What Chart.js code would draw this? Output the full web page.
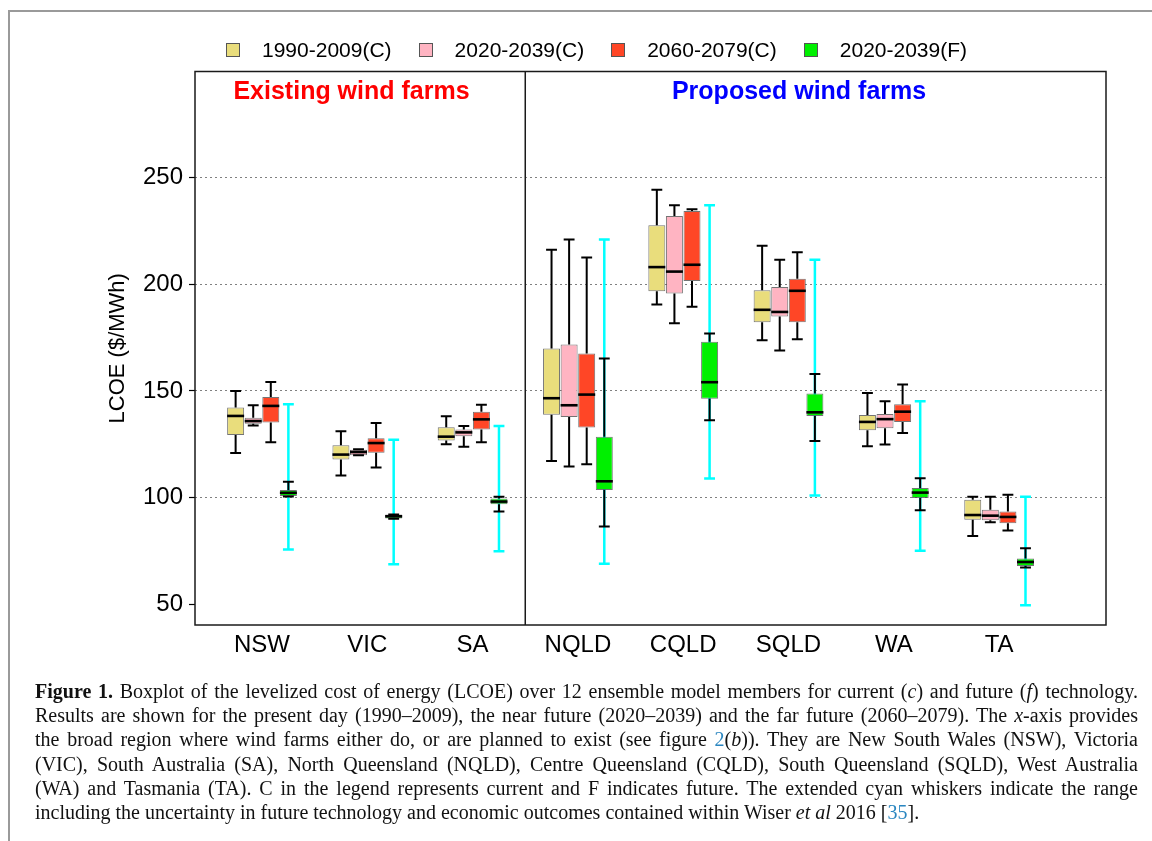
<!DOCTYPE html>
<html>
<head>
<meta charset="utf-8">
<script src="https://cdn.jsdelivr.net/npm/chart.js@4.4.1/dist/chart.umd.min.js"></script>
<style>
  html, body { margin: 0; padding: 0; background: #fff; }
  body { width: 1152px; height: 841px; position: relative; overflow: hidden; }
  #frame { position: absolute; left: 8px; top: 10px; width: 1300px; height: 1000px; border: 2px solid #9a9a9a; }
  #chart { position: absolute; left: 0; top: 0; }
  #legend { position: absolute; left: 0; top: 0; font-family: 'Liberation Sans', Arial, sans-serif; font-size: 21px; color: #000; }
  .lg-box { position: absolute; width: 14px; height: 14px; border: 1px solid #555; box-sizing: border-box; }
  .lg-text { position: absolute; white-space: nowrap; line-height: 24px; }
  #caption { position: absolute; left: 35px; top: 679px; width: 1103px; font-family: 'Liberation Serif', 'Times New Roman', serif; font-size: 20px; line-height: 24.2px; color: #111; }
  #caption div { white-space: nowrap; text-align: justify; text-align-last: justify; }
  #caption div.last { text-align-last: left; }
  .lnk { color: #2a86c0; }
</style>
</head>
<body>
<div id="frame"></div>
<canvas id="chart" width="1152" height="680"></canvas>
<div id="legend"></div>
<div id="caption">
  <div><b>Figure 1.</b> Boxplot of the levelized cost of energy (LCOE) over 12 ensemble model members for current (<i>c</i>) and future (<i>f</i>) technology.</div>
  <div>Results are shown for the present day (1990–2009), the near future (2020–2039) and the far future (2060–2079). The <i>x</i>-axis provides</div>
  <div>the broad region where wind farms either do, or are planned to exist (see figure <span class="lnk">2</span>(<i>b</i>)). They are New South Wales (NSW), Victoria</div>
  <div>(VIC), South Australia (SA), North Queensland (NQLD), Centre Queensland (CQLD), South Queensland (SQLD), West Australia</div>
  <div>(WA) and Tasmania (TA). C in the legend represents current and F indicates future. The extended cyan whiskers indicate the range</div>
  <div class="last">including the uncertainty in future technology and economic outcomes contained within Wiser <i>et al</i> 2016 [<span class="lnk">35</span>].</div>
</div>
<script>
// ===== LCOE boxplot: existing vs proposed wind farm regions =====

const regions = ['NSW', 'VIC', 'SA', 'NQLD', 'CQLD', 'SQLD', 'WA', 'TA'];
const seriesNames = ['1990-2009(C)', '2020-2039(C)', '2060-2079(C)', '2020-2039(F)'];
const yTicks = [50, 100, 150, 200, 250];

// 1990-2009 current technology
const c1990Min = [120.9, 110.4, 125.0, 117.2, 190.5, 173.8, 124.1, 82.1];
const c1990Q1  = [129.4, 117.9, 126.8, 138.9, 196.7, 182.2, 131.6, 89.7];
const c1990Med = [138.3, 120.2, 128.6, 146.6, 208.0, 188.0, 135.5, 91.9];
const c1990Q3  = [142.2, 124.6, 133.0, 169.9, 227.6, 197.2, 138.8, 99.1];
const c1990Max = [150.0, 131.1, 138.1, 216.1, 244.2, 218.0, 149.1, 100.5];

// 2020-2039 current technology
const c2020Min = [133.8, 119.9, 123.9, 114.6, 181.7, 168.9, 124.9, 88.5];
const c2020Q1  = [134.7, 119.9, 128.8, 137.8, 195.6, 184.9, 132.5, 89.5];
const c2020Med = [135.9, 121.4, 130.6, 143.3, 205.9, 187.0, 136.8, 91.6];
const c2020Q3  = [137.5, 122.5, 131.9, 171.7, 231.9, 198.7, 139.2, 94.4];
const c2020Max = [143.3, 122.7, 133.6, 220.9, 237.0, 211.4, 145.2, 100.5];

// 2060-2079 current technology
const c2060Min = [126.0, 114.1, 126.0, 115.7, 189.4, 174.2, 130.3, 84.6];
const c2060Q1  = [135.2, 121.1, 131.9, 132.9, 201.5, 182.2, 135.5, 88.1];
const c2060Med = [143.0, 125.6, 136.7, 148.3, 209.1, 196.9, 140.3, 91.0];
const c2060Q3  = [147.2, 127.8, 140.3, 167.5, 234.3, 202.5, 143.8, 93.6];
const c2060Max = [154.2, 135.0, 143.6, 212.5, 235.1, 215.0, 153.0, 101.4];

// 2020-2039 future technology
const f2020Min = [100.6, 90.2, 93.5, 86.5, 136.3, 126.6, 94.1, 67.3];
const f2020Q1  = [100.8, 90.3, 96.9, 103.6, 146.4, 138.3, 99.9, 68.0];
const f2020Med = [102.3, 91.3, 98.2, 107.7, 154.1, 140.0, 102.4, 69.9];
const f2020Q3  = [103.6, 92.1, 99.6, 128.6, 173.1, 148.8, 104.6, 71.5];
const f2020Max = [107.5, 92.2, 100.5, 165.2, 176.9, 158.0, 109.1, 76.3];

// extended (cyan) whiskers: uncertainty range for future technology
const cyanLow  = [75.8, 68.9, 74.9, 69.1, 109.0, 101.1, 75.2, 49.7];
const cyanHigh = [143.8, 127.2, 133.6, 220.9, 237.0, 211.4, 145.2, 100.5];

// Colour scheme
const boxColors = ['#E9DD7C', '#FFB4C2', '#FF4626', '#00F000'];
const cyanColor = '#00FFFF';
const FONT = "'Liberation Sans', Arial, Helvetica, sans-serif";

const stats = [
  { min: c1990Min, q1: c1990Q1, med: c1990Med, q3: c1990Q3, max: c1990Max },
  { min: c2020Min, q1: c2020Q1, med: c2020Med, q3: c2020Q3, max: c2020Max },
  { min: c2060Min, q1: c2060Q1, med: c2060Med, q3: c2060Q3, max: c2060Max },
  { min: f2020Min, q1: f2020Q1, med: f2020Med, q3: f2020Q3, max: f2020Max }
];

// HTML legend
const legend = document.getElementById('legend');
seriesNames.forEach((name, i) => {
  const left = 226 + i * 192.6;
  const box = document.createElement('div');
  box.className = 'lg-box';
  box.style.left = left + 'px';
  box.style.top = '43px';
  box.style.background = boxColors[i];
  legend.appendChild(box);
  const txt = document.createElement('div');
  txt.className = 'lg-text';
  txt.style.left = (left + 36) + 'px';
  txt.style.top = '38px';
  txt.textContent = name;
  legend.appendChild(txt);
});

// Whiskers, caps, medians, cyan ranges, frame and panel titles
const boxParts = {
  id: 'boxParts',
  beforeDatasetsDraw(chart) {
    const { ctx, scales: { y } } = chart;
    const meta = chart.getDatasetMeta(3);
    ctx.save();
    ctx.strokeStyle = cyanColor;
    ctx.lineWidth = 2.5;
    meta.data.forEach((bar, i) => {
      const cx = bar.x;
      const hw = bar.width * 0.32;
      const yt = y.getPixelForValue(cyanHigh[i]);
      const yb = y.getPixelForValue(cyanLow[i]);
      ctx.beginPath();
      ctx.moveTo(cx, yt); ctx.lineTo(cx, yb);
      ctx.moveTo(cx - hw, yt); ctx.lineTo(cx + hw, yt);
      ctx.moveTo(cx - hw, yb); ctx.lineTo(cx + hw, yb);
      ctx.stroke();
    });
    ctx.restore();
  },
  afterDatasetsDraw(chart) {
    const { ctx, scales: { y } } = chart;
    ctx.save();
    ctx.strokeStyle = '#000';
    stats.forEach((s, d) => {
      const meta = chart.getDatasetMeta(d);
      meta.data.forEach((bar, i) => {
        const cx = bar.x;
        const hw = bar.width * 0.32;
        const yMax = y.getPixelForValue(s.max[i]);
        const yQ3 = y.getPixelForValue(s.q3[i]);
        const yQ1 = y.getPixelForValue(s.q1[i]);
        const yMin = y.getPixelForValue(s.min[i]);
        const yMed = y.getPixelForValue(s.med[i]);
        ctx.lineWidth = 2;
        ctx.beginPath();
        ctx.moveTo(cx, yQ3); ctx.lineTo(cx, yMax);
        ctx.moveTo(cx - hw, yMax); ctx.lineTo(cx + hw, yMax);
        ctx.moveTo(cx, yQ1); ctx.lineTo(cx, yMin);
        ctx.moveTo(cx - hw, yMin); ctx.lineTo(cx + hw, yMin);
        ctx.stroke();
        ctx.lineWidth = 2.6;
        ctx.beginPath();
        ctx.moveTo(bar.x - bar.width / 2, yMed);
        ctx.lineTo(bar.x + bar.width / 2, yMed);
        ctx.stroke();
      });
    });
    ctx.restore();
  },
  afterDraw(chart) {
    const { ctx, chartArea: a, scales: { x } } = chart;
    ctx.save();
    ctx.strokeStyle = '#1a1a1a';
    ctx.lineWidth = 1.5;
    ctx.strokeRect(a.left, a.top, a.right - a.left, a.bottom - a.top);
    const xd = x.getPixelForValue(3.5);
    ctx.beginPath();
    ctx.moveTo(xd, a.top); ctx.lineTo(xd, a.bottom);
    ctx.stroke();
    ctx.font = 'bold 25px ' + FONT;
    ctx.textAlign = 'center';
    ctx.textBaseline = 'alphabetic';
    ctx.fillStyle = '#FF0000';
    ctx.fillText('Existing wind farms', x.getPixelForValue(1.85), a.top + 27);
    ctx.fillStyle = '#0000FF';
    ctx.fillText('Proposed wind farms', x.getPixelForValue(6.1), a.top + 27);
    ctx.restore();
  }
};

const datasets = stats.map((s, d) => ({
  label: seriesNames[d],
  data: regions.map((_, i) => ({ x: i + 1, y: [s.q1[i], s.q3[i]] })),
  backgroundColor: boxColors[d],
  borderColor: 'rgba(70, 70, 70, 0.75)',
  borderWidth: 1,
  borderSkipped: false,
  categoryPercentage: 0.668,
  barPercentage: 0.966
}));

new Chart(document.getElementById('chart'), {
  type: 'bar',
  data: { datasets },
  plugins: [boxParts],
  options: {
    responsive: false,
    animation: false,
    layout: { padding: { top: 71.5, right: 46, bottom: 10, left: 0 } },
    plugins: { legend: { display: false }, tooltip: { enabled: false } },
    scales: {
      x: {
        type: 'linear',
        min: 0.3637,
        max: 9.015,
        offset: false,
        afterBuildTicks: s => { s.ticks = regions.map((_, i) => ({ value: i + 1 })); },
        afterFit: s => { s.height = 45; },
        grid: { display: false, drawTicks: false },
        border: { display: false },
        ticks: {
          color: '#000',
          font: { family: FONT, size: 24 },
          padding: 6,
          autoSkip: false,
          maxRotation: 0,
          callback: v => regions[Math.round(v) - 1]
        }
      },
      y: {
        min: 40.4,
        max: 299.6,
        afterBuildTicks: s => { s.ticks = yTicks.map(v => ({ value: v })); },
        afterFit: s => { s.width = 195; },
        grid: {
          color: c => (c.tick && c.tick.value === 50) ? 'rgba(0,0,0,0)' : '#808080',
          lineWidth: 1,
          drawTicks: true,
          tickLength: 6,
          tickColor: '#000',
          tickWidth: 1.2
        },
        border: { display: false, dash: [2, 3] },
        ticks: { color: '#000', font: { family: FONT, size: 24 }, padding: 6 },
        title: {
          display: true,
          text: 'LCOE ($/MWh)',
          color: '#000',
          font: { family: FONT, size: 22 },
          padding: { top: 105, bottom: 0 }
        }
      }
    }
  }
});
</script>
</body>
</html>
